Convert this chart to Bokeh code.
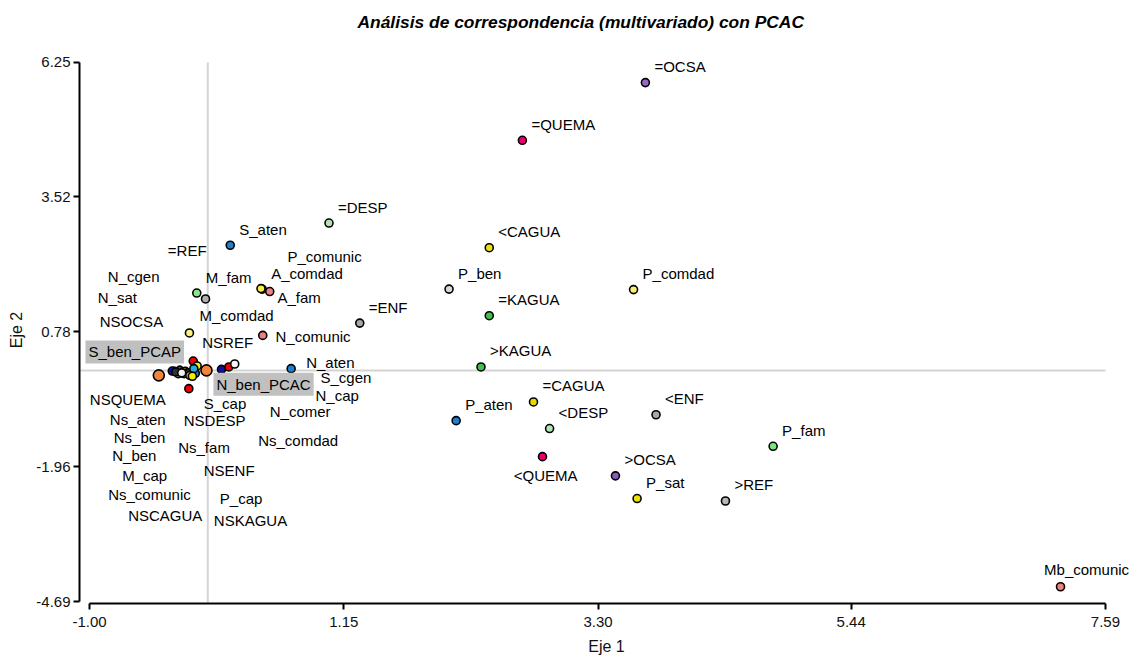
from bokeh.plotting import figure
from bokeh.models import Range1d, FixedTicker, NumeralTickFormatter, ColumnDataSource, Title
from bokeh.core.properties import value
from bokeh.embed import file_html
from bokeh.resources import INLINE

# ---- data: categories with their coordinates on Eje 1 / Eje 2 ----
names = ["=OCSA", "=QUEMA", "=DESP", "<CAGUA", "S_aten", "P_ben", "P_comdad", "=KAGUA",
         "A_comdad", "M_fam", "=ENF", ">KAGUA", "=CAGUA", "P_aten", "<DESP", "<ENF",
         ">OCSA", "P_sat", ">REF", "P_fam",
         "Mb_comunic", "<QUEMA", "A_fam", "P_comunic", "M_comdad", "N_comunic", "NSOCSA",
         "N_aten", "=REF", "N_cgen", "N_sat", "NSREF", "S_cgen", "N_cap", "NSQUEMA",
         "S_cap", "N_comer", "Ns_aten", "NSDESP", "Ns_ben", "Ns_comdad", "Ns_fam", "N_ben",
         "NSENF", "M_cap", "Ns_comunic", "P_cap", "NSCAGUA", "NSKAGUA",
         "S_ben_PCAP", "N_ben_PCAC"]
eje1 = [3.70, 2.66, 1.025, 2.38, 0.19, 2.04, 3.60, 2.38,
        0.46, -0.093, 1.285, 2.31, 2.754, 2.10, 2.89, 3.79,
        3.447, 3.63, 4.377, 4.78,
        7.21, 2.83, 0.524, 0.45, -0.019, 0.465, -0.155,
        0.705, -0.21, -0.28, -0.19, -0.123, 0.116, 0.178, -0.30,
        -0.09, 0.228, -0.25, -0.16, -0.236, -0.17, -0.14, -0.20,
        -0.27, -0.22, -0.152, -0.105, -0.118, -0.13,
        -0.414, -0.011]
eje2 = [5.84, 4.67, 2.99, 2.49, 2.54, 1.65, 1.64, 1.11,
        1.65, 1.57, 0.96, 0.07, -0.64, -1.02, -1.18, -0.90,
        -2.14, -2.60, -2.65, -1.54,
        -4.39, -1.75, 1.60, 1.66, 1.45, 0.71, 0.76,
        0.036, -0.04, -0.02, -0.02, 0.19, 0.02, 0.07, -0.013,
        0.09, 0.13, -0.066, -0.37, 0.04, -0.05, -0.08, -0.066,
        -0.03, -0.05, -0.10, -0.06, 0.036, -0.12,
        -0.10, 0.0]
colors = ["#9966cc", "#e8006e", "#b4e4b4", "#f0e010", "#1f7fd0", "#d8d8d8", "#f8f070", "#40c050",
          "#f8f040", "#88e888", "#a8a8a8", "#40c050", "#e8d800", "#1f7fd0", "#b4e4b4", "#a8a8a8",
          "#8a5cc0", "#f0e000", "#b8b8b8", "#78e878",
          "#f08080", "#e8006e", "#f08080", "#f8f040", "#b0b0b0", "#f08080", "#f8f080",
          "#1f7fd0", "#b0b0b0", "#80e080", "#f0e000", "#f00000", "#1010a0", "#f00000", "#1010a0",
          "#f8f000", "#f4f4f4", "#a0a0a0", "#f00000", "#e0007a", "#40c050", "#f08080", "#40c040",
          "#303030", "#f0f0f0", "#f08080", "#1f7fd0", "#30a8d8", "#f0f000",
          "#f4843c", "#f4843c"]
highlighted = ["S_ben_PCAP", "N_ben_PCAC"]

# labels placed beside their point (upper right)
beside = names[:20]
# labels moved away from crowded points: anchor (Eje 1, Eje 2) of the text's left edge
moved_labels = {
    "Mb_comunic": (7.071, -4.04), "<QUEMA": (2.587, -2.136), "A_fam": (0.589, 1.471),
    "P_comunic": (0.674, 2.313), "M_comdad": (-0.070, 1.114), "N_comunic": (0.573, 0.695),
    "NSOCSA": (-0.913, 0.992), "N_aten": (0.832, 0.169), "=REF": (-0.338, 2.434),
    "N_cgen": (-0.845, 1.908), "N_sat": (-0.930, 1.471), "NSREF": (-0.047, 0.561),
    "S_cgen": (0.953, -0.146), "N_cap": (0.911, -0.518), "NSQUEMA": (-0.997, -0.599),
    "S_cap": (-0.034, -0.666), "N_comer": (0.524, -0.834), "Ns_aten": (-0.828, -1.004),
    "NSDESP": (-0.203, -1.024), "Ns_ben": (-0.795, -1.368), "Ns_comdad": (0.426, -1.428),
    "Ns_fam": (-0.250, -1.556), "N_ben": (-0.808, -1.732), "NSENF": (-0.034, -2.035),
    "M_cap": (-0.724, -2.136), "Ns_comunic": (-0.842, -2.527), "P_cap": (0.102, -2.607),
    "NSCAGUA": (-0.673, -2.951), "NSKAGUA": (0.051, -3.046),
    "S_ben_PCAP": (-1.034, 0.375), "N_ben_PCAC": (0.048, -0.282),
}

x_ticks = [-1.00, 1.15, 3.30, 5.44, 7.59]
y_ticks = [-4.69, -1.96, 0.78, 3.52, 6.25]
title_text = "Análisis de correspondencia (multivariado) con PCAC"

FONT = "Liberation Sans"

p = figure(width=1133, height=658, output_backend="svg", toolbar_location=None,
           x_range=Range1d(-1.0845, 7.827), y_range=Range1d(-4.73, 6.37),
           min_border_left=79, min_border_right=0, min_border_top=56, min_border_bottom=55)
p.grid.visible = False
p.outline_line_color = None
p.background_fill_color = "white"

# spacer panel between frame and title, then the title itself
p.add_layout(Title(text=" ", text_font_size="10px", standoff=12), "above")
p.add_layout(Title(text=title_text, text_font=FONT, text_font_size="17.4px",
                   text_font_style="bold italic", text_color="black",
                   align="left", offset=278, standoff=0), "above")

for ax, ticks, lab in ((p.xaxis[0], x_ticks, "Eje 1"), (p.yaxis[0], y_ticks, "Eje 2")):
    ax.ticker = FixedTicker(ticks=ticks)
    ax.formatter = NumeralTickFormatter(format="0.00")
    ax.bounds = (min(ticks), max(ticks))
    ax.axis_line_width = 2
    ax.axis_line_color = "black"
    ax.major_tick_line_width = 2
    ax.major_tick_out = 6
    ax.major_tick_in = 0
    ax.minor_tick_line_color = None
    ax.major_label_text_font = FONT
    ax.major_label_text_font_size = "15px"
    ax.major_label_text_color = "#111111"
    ax.axis_label = lab
    ax.axis_label_text_font = FONT
    ax.axis_label_text_font_size = "16px"
    ax.axis_label_text_font_style = "normal"
    ax.axis_label_text_color = "#111111"
p.yaxis[0].major_label_standoff = 3
p.xaxis[0].major_label_standoff = 7
p.yaxis[0].axis_label_standoff = 8
p.xaxis[0].axis_label_standoff = 8

# reference lines through the origin, limited to the axis bounds
p.segment(x0=[p.x_range.start], y0=[0], x1=[max(x_ticks)], y1=[0], line_color="#d4d4d4", line_width=2)
p.segment(x0=[0], y0=[p.y_range.start], x1=[0], y1=[max(y_ticks)], line_color="#d4d4d4", line_width=2)

sizes = [11 if n in highlighted else (5 if n == "Ns_ben" else 8) for n in names]
pts = ColumnDataSource(dict(x=eje1, y=eje2, c=colors, s=sizes))
p.scatter("x", "y", source=pts, size="s", fill_color="c", line_color="black", line_width=1.6)

idx = {n: i for i, n in enumerate(names)}
src_b = ColumnDataSource(dict(x=[eje1[idx[n]] for n in beside], y=[eje2[idx[n]] for n in beside], t=beside))
p.text("x", "y", text="t", source=src_b, x_offset=9, y_offset=-16, text_align="left",
       text_baseline="middle", text_font=value(FONT), text_font_size="15px", text_color="#000000")

plain = [n for n in moved_labels if n not in highlighted]
src_m = ColumnDataSource(dict(x=[moved_labels[n][0] for n in plain], y=[moved_labels[n][1] for n in plain], t=plain))
p.text("x", "y", text="t", source=src_m, text_align="left", text_baseline="middle",
       text_font=value(FONT), text_font_size="15px", text_color="#000000")

src_h = ColumnDataSource(dict(x=[moved_labels[n][0] for n in highlighted], y=[moved_labels[n][1] for n in highlighted], t=highlighted))
p.text("x", "y", text="t", source=src_h, text_align="left", text_baseline="middle",
       text_font=value(FONT), text_font_size="15px", text_color="#000000",
       background_fill_color="#c0c0c0", padding=3)

open("out.html", "w").write(file_html(p, INLINE))
